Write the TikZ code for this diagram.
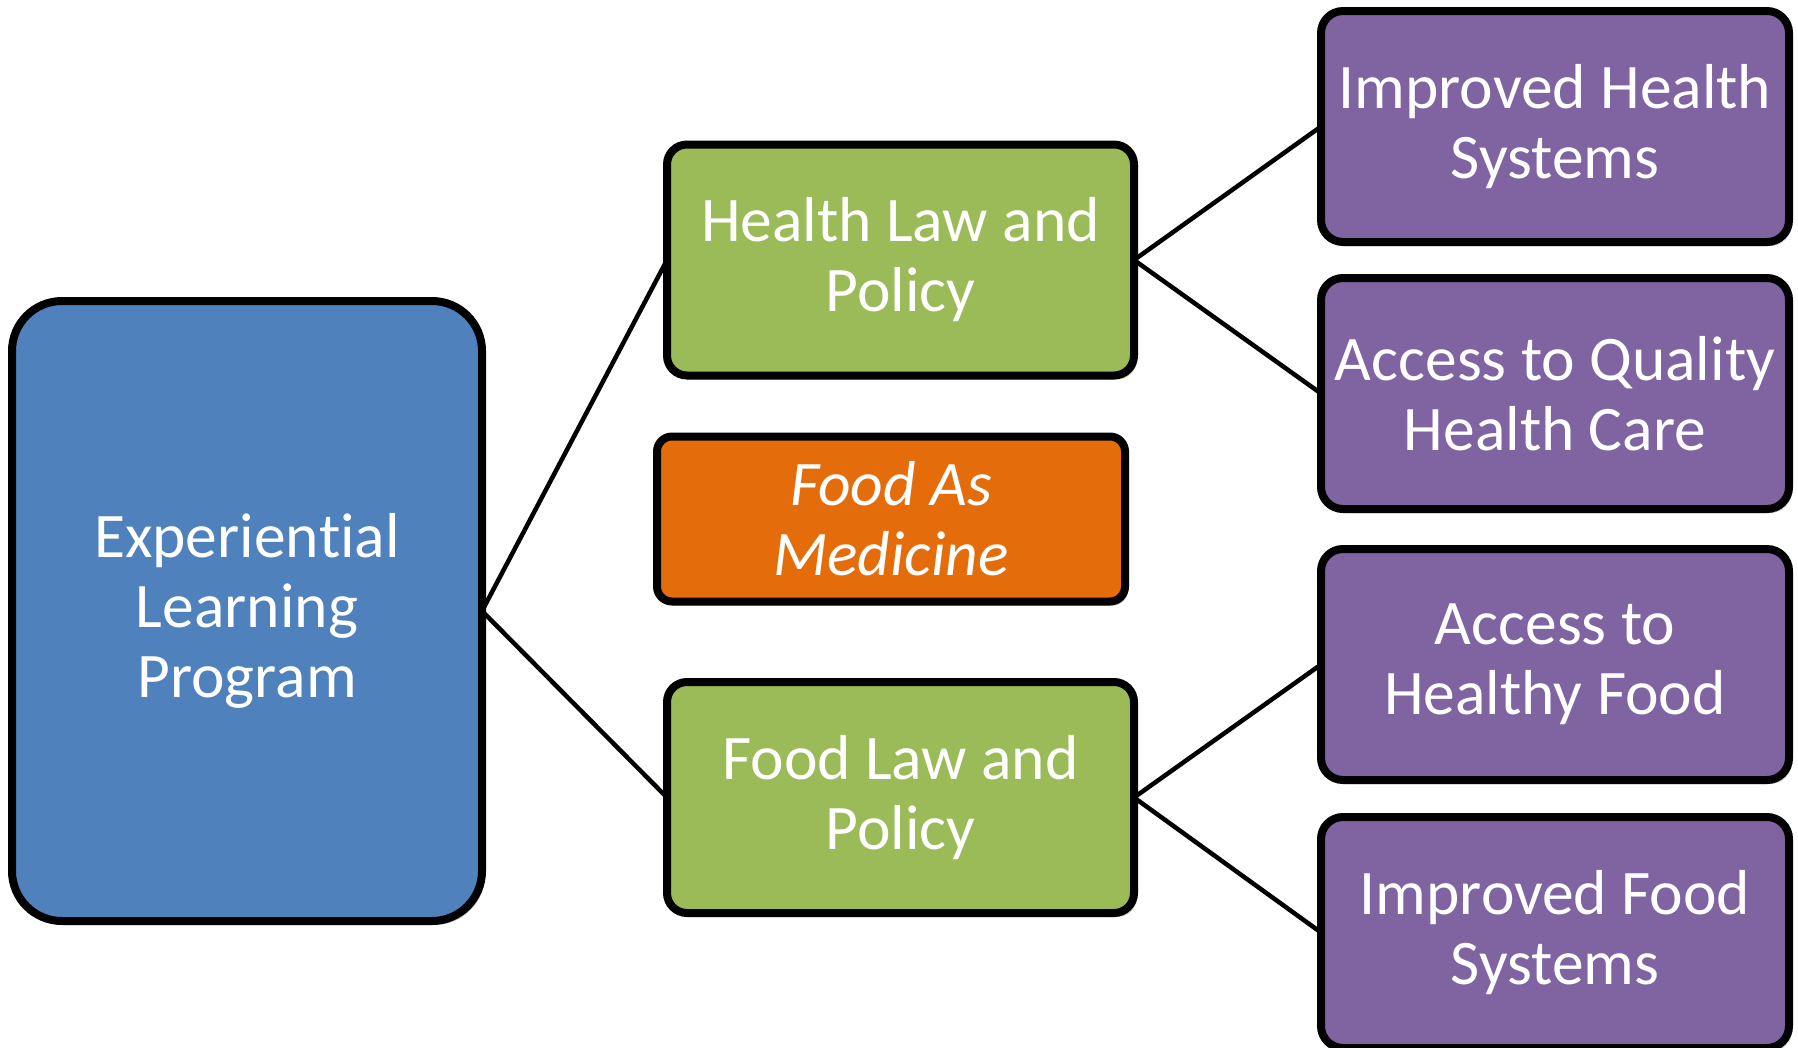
\documentclass[tikz,border=0pt]{standalone}
\usepackage{fontspec}
\setmainfont[Ligatures={NoCommon},RawFeature={-liga;-clig;-calt;-dlig}]{Carlito}
\usetikzlibrary{shadows}
\definecolor{cblue}{HTML}{4F81BD}
\definecolor{cgreen}{HTML}{9BBB59}
\definecolor{corange}{HTML}{E46C0A}
\definecolor{cpurple}{HTML}{8064A2}
\begin{document}
\begin{tikzpicture}[x=1pt,y=-1pt,
  box/.style={draw=black, line width=8pt, text=white, align=center, inner sep=0pt, outer sep=0pt,
    font=\fontsize{63.5}{70}\selectfont,
    drop shadow={shadow xshift=3pt, shadow yshift=-4pt, fill=black, opacity=0.22}},
  bluebox/.style={box, fill=cblue, rounded corners=50pt, minimum width=470pt, minimum height=620pt},
  greenbox/.style={box, fill=cgreen, rounded corners=20pt, minimum width=467pt, minimum height=231pt},
  orangebox/.style={box, fill=corange, rounded corners=15pt, minimum width=468pt, minimum height=165pt, font=\fontsize{63.5}{70}\selectfont\itshape},
  purplebox/.style={box, fill=cpurple, rounded corners=22pt, minimum width=468pt, minimum height=231pt},
  link/.style={draw=black, line width=4.5pt}]
\useasboundingbox (0,0) rectangle (1798,1047);
\clip (0,0) rectangle (1798,1047);
\node[bluebox] (elp) at (247,611) {Experien\kern0pt tial\\Learning\\Program};
\node[greenbox] (hlp) at (900.5,260) {Health Law and\\Policy};
\node[orangebox] (fam) at (891,519) {Food As\\Medicine};
\node[greenbox] (flp) at (900.5,797.5) {Food Law and\\Policy};
\node[purplebox] (ihs) at (1555,126.5) {Improved Health\\Systems};
\node[purplebox] (aqh) at (1555,393.5) {Access to Quality\\Health Care};
\node[purplebox] (ahf) at (1555,664.5) {Access to\\Healthy Food};
\node[purplebox] (ifs) at (1555,932.5) {Improved Food\\Systems};
\draw[link] (elp.east) -- (hlp.west);
\draw[link] (elp.east) -- (flp.west);
\draw[link] (hlp.east) -- (ihs.west);
\draw[link] (hlp.east) -- (aqh.west);
\draw[link] (flp.east) -- (ahf.west);
\draw[link] (flp.east) -- (ifs.west);
\end{tikzpicture}
\end{document}
